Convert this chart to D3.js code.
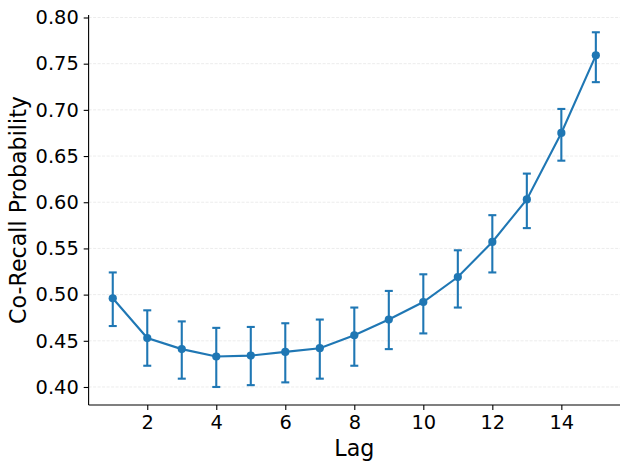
<!DOCTYPE html>
<html><head><meta charset="utf-8">
<script src="https://cdn.jsdelivr.net/npm/d3@7"></script>
<style>
html,body{margin:0;padding:0;background:#fff;}
svg{display:block;font-family:"DejaVu Sans",sans-serif;}
</style></head>
<body>
<svg id="chart" width="630" height="469"></svg>
<script>
const lags = [1,2,3,4,5,6,7,8,9,10,11,12,13,14,15];
const means = [0.496,0.453,0.441,0.433,0.434,0.438,0.442,0.456,0.473,0.492,0.519,0.557,0.603,0.675,0.759];
const lower = [0.466,0.423,0.409,0.400,0.402,0.405,0.409,0.423,0.441,0.458,0.486,0.524,0.572,0.645,0.730];
const upper = [0.524,0.483,0.471,0.464,0.465,0.469,0.473,0.486,0.504,0.522,0.548,0.586,0.631,0.701,0.784];
const xTicks = [2,4,6,8,10,12,14];
const yTicks = [0.40,0.45,0.50,0.55,0.60,0.65,0.70,0.75,0.80];
const xLabel = "Lag";
const yLabel = "Co-Recall Probability";
const color = "#1f77b4";

const svg = d3.select("#chart");
const pL = 88.6, pR = 620, pT = 15, pB = 405;

const x = d3.scaleLinear().domain([0.3, 15.7]).range([pL, pR]);
const y = d3.scaleLinear().domain([0.3805, 0.8027]).range([pB, pT]);

// grid
svg.append("g").selectAll("line").data(yTicks).join("line")
  .attr("x1", pL).attr("x2", pR)
  .attr("y1", d => y(d)).attr("y2", d => y(d))
  .attr("stroke", "#b0b0b0").attr("stroke-opacity", 0.3)
  .attr("stroke-width", 0.8).attr("stroke-dasharray", "3,1.5");

// axes
const xAxis = d3.axisBottom(x).tickValues(xTicks).tickFormat(d3.format("d")).tickSize(4.9).tickPadding(4.9).tickSizeOuter(0);
const yAxis = d3.axisLeft(y).tickValues(yTicks).tickFormat(d3.format(".2f")).tickSize(4.9).tickPadding(4.9).tickSizeOuter(0);

const gx = svg.append("g").attr("transform", `translate(0,${pB})`).call(xAxis);
const gy = svg.append("g").attr("transform", `translate(${pL},0)`).call(yAxis);
[gx, gy].forEach(g => {
  g.select(".domain").attr("stroke", "#000").attr("stroke-width", 1.1);
  g.selectAll(".tick line").attr("stroke", "#000").attr("stroke-width", 1.1);
  g.selectAll(".tick text").attr("fill", "#000").attr("font-size", "19.4px").attr("font-family", "DejaVu Sans");
});
gx.select(".domain").attr("d", `M${pL},0H${pR}`);
gy.select(".domain").attr("d", `M0,${pB}V${pT}`);

// labels
svg.append("text").attr("x", (pL + pR) / 2).attr("y", 456)
  .attr("text-anchor", "middle").attr("font-size", "22.2px").attr("fill", "#000").text(xLabel);
svg.append("text").attr("transform", `translate(26,${(pT + pB) / 2}) rotate(-90)`)
  .attr("text-anchor", "middle").attr("font-size", "22.2px").attr("fill", "#000").text(yLabel);

// line
const line = d3.line().x((d, i) => x(lags[i])).y(d => y(d));
svg.append("path").datum(means).attr("d", line)
  .attr("fill", "none").attr("stroke", color).attr("stroke-width", 2.1);

// error bars
const eb = svg.append("g").attr("stroke", color).attr("stroke-width", 2.1);
lags.forEach((l, i) => {
  const cx = x(l);
  eb.append("line").attr("x1", cx).attr("x2", cx).attr("y1", y(lower[i])).attr("y2", y(upper[i]));
  eb.append("line").attr("x1", cx - 4).attr("x2", cx + 4).attr("y1", y(lower[i])).attr("y2", y(lower[i]));
  eb.append("line").attr("x1", cx - 4).attr("x2", cx + 4).attr("y1", y(upper[i])).attr("y2", y(upper[i]));
});

// markers
svg.append("g").selectAll("circle").data(means).join("circle")
  .attr("cx", (d, i) => x(lags[i])).attr("cy", d => y(d)).attr("r", 4.1)
  .attr("fill", color);
</script>
</body></html>
